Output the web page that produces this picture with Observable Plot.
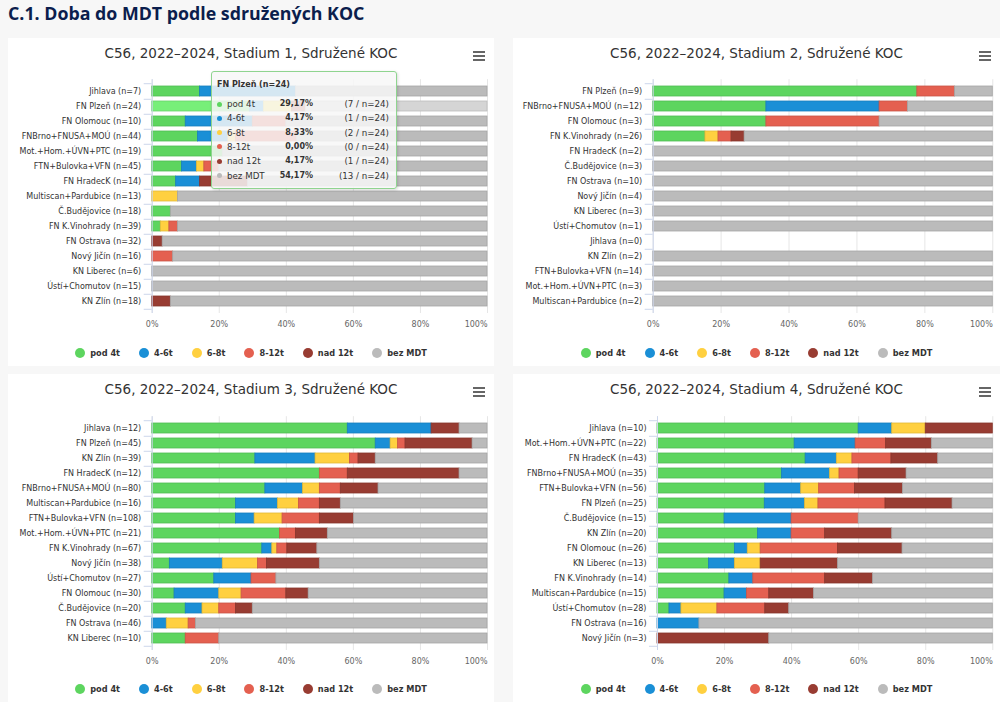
<!DOCTYPE html>
<html><head><meta charset="utf-8">
<script src="https://cdn.jsdelivr.net/npm/d3@7"></script>
<script src="https://cdn.jsdelivr.net/npm/@observablehq/plot@0.6"></script>
<style>
html,body{margin:0;padding:0;}
body{width:1000px;height:702px;background:#f7f7f7;position:relative;overflow:hidden;font-family:"DejaVu Sans",sans-serif;}
.main{position:absolute;left:8px;top:0;line-height:26px;font-family:"Open Sans",sans-serif;font-weight:700;font-size:17.8px;color:#0b1e4d;white-space:nowrap;}
.panel{position:absolute;background:#fff;}
.ptitle{position:absolute;left:0;right:0;text-align:center;font-size:13.5px;color:#333;white-space:nowrap;}
.burger{position:absolute;width:12px;height:10px;}
.burger div{height:2px;background:#666;margin-bottom:2px;}
.plotbox{position:absolute;}
.legend{position:absolute;display:flex;justify-content:center;align-items:center;gap:19px;font-size:8.2px;font-weight:bold;color:#333;white-space:nowrap;}
.legend .it{display:flex;align-items:center;}
.legend .dot{width:10px;height:10px;border-radius:50%;margin-right:5px;}
.tip{position:absolute;left:211px;top:71px;width:184px;height:116px;background:rgba(247,247,247,0.85);border:1px solid #8fd48f;border-radius:3px;box-shadow:1px 1px 3px rgba(0,0,0,0.15);font-size:8.7px;color:#333;}
.tip .hd{position:absolute;left:5px;top:8px;font-weight:bold;font-size:8px;}
.tip .row{position:absolute;left:0;width:184px;height:12px;line-height:12px;}
.tip .tdot{position:absolute;left:5px;top:3.5px;width:5px;height:5px;border-radius:50%;}
.tip .nm{position:absolute;left:15px;}
.tip .pc{position:absolute;right:83px;font-weight:bold;font-size:8px;}
.tip .ct{position:absolute;right:7px;}
</style></head><body>
<div class="main">C.1. Doba do MDT podle sdružených KOC</div>
<script>
const seriesNames = ["pod 4t","4-6t","6-8t","8-12t","nad 12t","bez MDT"];
const seriesColors = ["#5dd55f","#1a8fd6","#ffd040","#e46050","#983c32","#bbbbbb"];
const xTicks = [0,20,40,60,80,100];
const panelTitles = [
  "C56, 2022–2024, Stadium 1, Sdružené KOC",
  "C56, 2022–2024, Stadium 2, Sdružené KOC",
  "C56, 2022–2024, Stadium 3, Sdružené KOC",
  "C56, 2022–2024, Stadium 4, Sdružené KOC"
];

// Stadium 1
const s1Names = ["Jihlava","FN Plzeň","FN Olomouc","FNBrno+FNUSA+MOÚ","Mot.+Hom.+ÚVN+PTC","FTN+Bulovka+VFN","FN HradecK","Multiscan+Pardubice","Č.Budějovice","FN K.Vinohrady","FN Ostrava","Nový Jičín","KN Liberec","Ústí+Chomutov","KN Zlín"];
const s1N = [7,24,10,44,19,45,14,13,18,39,32,16,6,15,18];
const s1Counts = [
  [1,2,0,0,0,4],
  [7,1,2,0,1,13],
  [1,2,0,1,0,6],
  [6,4,1,8,0,25],
  [4,0,0,0,0,15],
  [4,2,1,2,0,36],
  [1,1,0,0,2,10],
  [0,0,1,0,0,12],
  [1,0,0,0,0,17],
  [1,0,1,1,0,36],
  [0,0,0,0,1,31],
  [0,0,0,1,0,15],
  [0,0,0,0,0,6],
  [0,0,0,0,0,15],
  [0,0,0,0,1,17]
];

// Stadium 2
const s2Names = ["FN Plzeň","FNBrno+FNUSA+MOÚ","FN Olomouc","FN K.Vinohrady","FN HradecK","Č.Budějovice","FN Ostrava","Nový Jičín","KN Liberec","Ústí+Chomutov","Jihlava","KN Zlín","FTN+Bulovka+VFN","Mot.+Hom.+ÚVN+PTC","Multiscan+Pardubice"];
const s2N = [9,12,3,26,2,3,10,4,3,1,0,2,14,3,2];
const s2Counts = [
  [7,0,0,1,0,1],
  [4,4,0,1,0,3],
  [1,0,0,1,0,1],
  [4,0,1,1,1,19],
  [0,0,0,0,0,2],
  [0,0,0,0,0,3],
  [0,0,0,0,0,10],
  [0,0,0,0,0,4],
  [0,0,0,0,0,3],
  [0,0,0,0,0,1],
  [0,0,0,0,0,0],
  [0,0,0,0,0,2],
  [0,0,0,0,0,14],
  [0,0,0,0,0,3],
  [0,0,0,0,0,2]
];

// Stadium 3
const s3Names = ["Jihlava","FN Plzeň","KN Zlín","FN HradecK","FNBrno+FNUSA+MOÚ","Multiscan+Pardubice","FTN+Bulovka+VFN","Mot.+Hom.+ÚVN+PTC","FN K.Vinohrady","Nový Jičín","Ústí+Chomutov","FN Olomouc","Č.Budějovice","FN Ostrava","KN Liberec"];
const s3N = [12,45,39,12,80,16,108,21,67,38,27,30,20,46,10];
const s3Counts = [
  [7,3,0,0,1,1],
  [30,2,1,1,9,2],
  [12,7,4,1,2,13],
  [6,0,0,1,4,1],
  [27,9,4,5,9,26],
  [4,2,1,1,1,7],
  [27,6,9,12,11,43],
  [8,0,0,1,2,10],
  [22,2,1,2,6,34],
  [2,6,4,1,6,19],
  [5,3,0,2,0,17],
  [2,4,2,4,2,16],
  [2,1,1,1,1,14],
  [0,2,3,1,0,40],
  [1,0,0,1,0,8]
];

// Stadium 4
const s4Names = ["Jihlava","Mot.+Hom.+ÚVN+PTC","FN HradecK","FNBrno+FNUSA+MOÚ","FTN+Bulovka+VFN","FN Plzeň","Č.Budějovice","KN Zlín","FN Olomouc","KN Liberec","FN K.Vinohrady","Multiscan+Pardubice","Ústí+Chomutov","FN Ostrava","Nový Jičín"];
const s4N = [10,22,43,35,56,25,15,20,26,13,14,15,28,16,3];
const s4Counts = [
  [6,1,1,0,2,0],
  [9,4,0,2,3,4],
  [19,4,2,5,6,7],
  [13,5,1,2,5,9],
  [18,6,3,6,8,15],
  [8,3,1,5,5,3],
  [3,3,0,3,0,6],
  [6,2,0,2,4,6],
  [6,1,1,6,5,7],
  [2,1,1,0,3,6],
  [3,1,0,3,2,5],
  [3,1,0,1,2,8],
  [1,1,3,4,2,17],
  [0,2,0,0,0,14],
  [0,0,0,0,1,2]
];

const panels = [
  {names:s1Names, n:s1N, counts:s1Counts, title:panelTitles[0], px:8, py:38, pw:486, ph:328, x0:151.7, x1:487, hover:1},
  {names:s2Names, n:s2N, counts:s2Counts, title:panelTitles[1], px:513, py:38, pw:487, ph:328, x0:652.7, x1:992.3, hover:-1},
  {names:s3Names, n:s3N, counts:s3Counts, title:panelTitles[2], px:8, py:374, pw:486, ph:328, x0:151.7, x1:487, hover:-1},
  {names:s4Names, n:s4N, counts:s4Counts, title:panelTitles[3], px:513, py:374, pw:487, ph:328, x0:657, x1:992.3, hover:-1}
];

function lighten(c){const r=d3.rgb(c);return d3.rgb(Math.min(255,r.r+26),Math.min(255,r.g+26),Math.min(255,r.b+26)).formatHex();}

panels.forEach((o)=>{
  const panel = document.createElement("div");
  panel.className="panel";
  Object.assign(panel.style,{left:o.px+"px",top:o.py+"px",width:o.pw+"px",height:o.ph+"px"});
  document.body.appendChild(panel);
  const t = document.createElement("div");
  t.className="ptitle"; t.style.top="7px"; t.textContent=o.title;
  panel.appendChild(t);
  const b = document.createElement("div");
  b.className="burger"; b.style.left=(o.pw-21)+"px"; b.style.top="13px";
  b.innerHTML="<div></div><div></div><div></div>";
  panel.appendChild(b);

  const labels = o.names.map((nm,i)=>`${nm} (n=${o.n[i]})`);
  const rows = [];
  o.names.forEach((nm,i)=>{
    const n=o.n[i]; if(!n) return;
    seriesNames.forEach((s,j)=>{
      const c=o.counts[i][j]; if(!c) return;
      let col = seriesColors[j];
      if (o.hover===i) col = lighten(col);
      rows.push({label:labels[i], series:s, pct:c/n*100, fill:col, stroke:d3.rgb(col).darker(0.35).formatHex()});
    });
  });
  const H=265, mt=9.2, mb=22;
  const step=(H-mt-mb)/labels.length;
  const svgLeft=o.px;
  const chart = Plot.plot({
    width:o.pw, height:H,
    marginLeft:o.x0-svgLeft, marginRight:(o.px+o.pw)-o.x1, marginTop:mt, marginBottom:mb,
    style:{fontFamily:"DejaVu Sans, sans-serif", fontSize:"8px", background:"transparent", overflow:"visible"},
    x:{domain:[0,100], label:null},
    y:{domain:labels, paddingInner:0.35, paddingOuter:0.175, label:null},
    color:{type:"identity"},
    marks:[
      Plot.gridX(xTicks,{stroke:"#e6e6e6", strokeOpacity:1}),
      Plot.barX(rows, Plot.stackX({x:"pct", y:"label", z:"series", fill:"fill", stroke:"stroke", strokeWidth:0.8, order:null})),
      Plot.ruleX([0],{stroke:"#ccd6eb"}),
      Plot.axisY({tickSize:8, tickFormat:()=>"", dy:step/2, stroke:"#ccd6eb", label:null}),
      Plot.axisY([labels[0]],{tickSize:8, tickFormat:()=>"", dy:-step/2, stroke:"#ccd6eb", label:null}),
      Plot.axisY({tickSize:0, tickPadding:11, fill:"#333", fontSize:8, label:null}),
      Plot.axisX(xTicks.slice(0,-1),{tickSize:0, tickPadding:8, tickFormat:d=>d+"%", fill:"#666", fontSize:8, label:null}),
      Plot.axisX([100],{tickSize:0, tickPadding:8, tickFormat:d=>d+"%", fill:"#666", fontSize:8, textAnchor:"end", label:null})
    ]
  });
  const box=document.createElement("div");
  box.className="plotbox"; box.style.left="0px"; box.style.top=(o.py===38?32:33)+"px";
  box.appendChild(chart);
  panel.appendChild(box);

  const lg=document.createElement("div");
  lg.className="legend";
  Object.assign(lg.style,{left:"0px",width:o.pw+"px",top:(o.ph-19)+"px",height:"12px"});
  seriesNames.forEach((s,j)=>{
    const it=document.createElement("div"); it.className="it";
    it.innerHTML=`<div class="dot" style="background:${seriesColors[j]}"></div><span>${s}</span>`;
    lg.appendChild(it);
  });
  panel.appendChild(lg);
});

// tooltip for hovered category in Stadium 1
(function(){
  const o=panels[0], i=o.hover, n=o.n[i];
  const tip=document.createElement("div"); tip.className="tip";
  let html=`<div class="hd">${o.names[i]} (n=${n})</div>`;
  seriesNames.forEach((s,j)=>{
    const c=o.counts[i][j];
    const pct=(c/n*100).toFixed(2).replace(".",",")+"%";
    html+=`<div class="row" style="top:${26+j*14.3}px"><div class="tdot" style="background:${seriesColors[j]}"></div><span class="nm">${s}</span><span class="pc">${pct}</span><span class="ct">(${c} / n=${n})</span></div>`;
  });
  tip.innerHTML=html;
  document.body.appendChild(tip);
})();
</script>
</body></html>
